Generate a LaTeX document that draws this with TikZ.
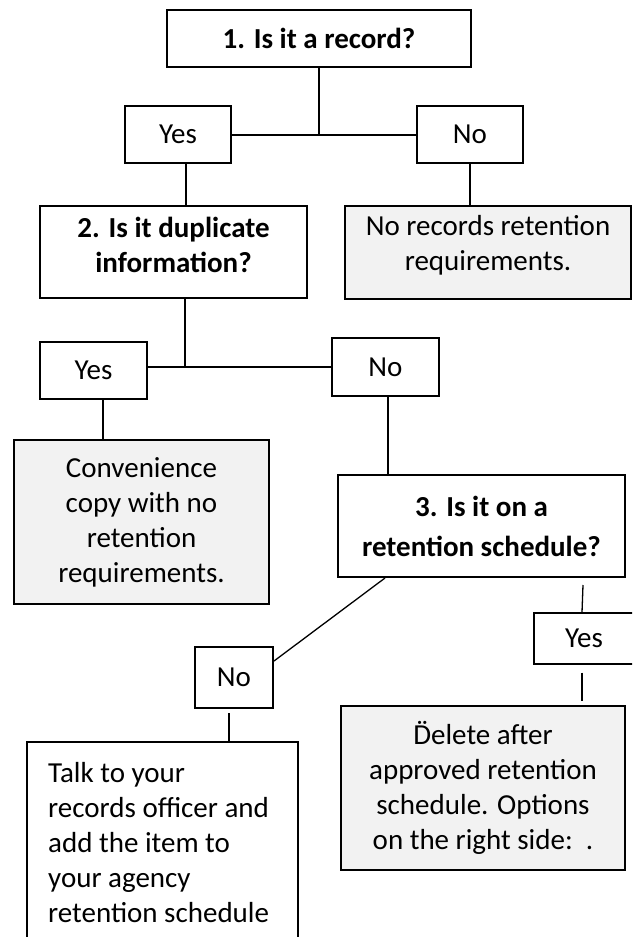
\documentclass[tikz,border=0pt]{standalone}
\usepackage{fontspec}
\setmainfont{Carlito}

\definecolor{boxgrey}{HTML}{F2F2F2}
\newcommand{\boxfont}{\fontsize{29}{35}\selectfont}

\begin{document}
\begin{tikzpicture}[x = 1pt, y = -1pt, font = \boxfont,
	box/.style = {draw, line width = 2pt, inner sep = 0pt, align = center},
	greybox/.style = {box, fill = boxgrey},
	answer/.style = {box, minimum width = 106pt, minimum height = 57pt},
	question/.style = {box, font = \boxfont\bfseries},
	txt/.style = {inner sep = 0pt, align = center},
	link/.style = {line width = 2pt},
	thinlink/.style = {line width = 1.3pt}]

	\useasboundingbox (0, 0) rectangle (632, 937);
	\clip (0, 0) rectangle (632, 937);

	% Is it a record?

	\node [question, minimum width = 304pt, minimum height = 57pt] (q1) at (319, 38.5) {1. Is it a record?};
	\node [answer] (yes1) at (178, 134.5) {Yes};
	\node [answer] (no1) at (470, 134.5) {No};

	\draw [link] (q1.south) -- (q1.south |- no1.west);
	\draw [link] (yes1.east) -- (no1.west);

	% Is it duplicate information?

	\node [question, minimum width = 267pt, minimum height = 92pt] (q2) at (173.5, 252) {};
	\node [txt, font = \boxfont\bfseries] (q2text) at (173.5, 245) {2. Is it duplicate\\information?};
	\node [greybox, minimum width = 286pt, minimum height = 93pt] (none) at (488, 252.5) {};
	\node [txt] (nonetext) at (488, 245.5) {No records retention\\requirements.};

	\draw [link] ([xshift = 8pt] yes1.south) -- ([xshift = 8pt] yes1.south |- q2.north);
	\draw [link] (no1.south) -- (no1.south |- none.north);

	\node [answer, minimum width = 107pt] (yes2) at (93.5, 370.5) {Yes};
	\node [answer, minimum width = 107pt, minimum height = 58pt] (no2) at (385.5, 367) {No};
	\node [greybox, minimum width = 255pt, minimum height = 164pt] (conv) at (141.5, 522) {Convenience\\copy with no\\retention\\requirements.};

	\draw [link] ([xshift = 11.5pt] q2.south) -- ([xshift = 11.5pt] q2.south |- no2.west);
	\draw [link] (yes2.east |- no2.west) -- (no2.west);
	\draw [link] ([xshift = 9.5pt] yes2.south) -- ([xshift = 9.5pt] yes2.south |- conv.north);

	% Is it on a retention schedule?

	\node [question, minimum width = 287pt, minimum height = 102pt] (q3) at (481.5, 526) {3. Is it on a\\[5pt]retention schedule?};

	\draw [link] ([xshift = 2.5pt] no2.south) -- ([xshift = 2.5pt] no2.south |- q3.north);

	\node [answer, line width = 1.3pt, minimum width = 100pt, minimum height = 51pt] (yes3) at (584, 638.5) {Yes};
	\node [greybox, minimum width = 284pt, minimum height = 164pt] (del) at (483, 788) {\accent"A8 Delete after\\approved retention\\schedule. Options\\on the right side:\ \ .};
	\node [answer, minimum width = 78pt, minimum height = 61pt] (no3) at (234, 677.5) {No};
	\node [box, line width = 1.3pt, minimum width = 271pt, minimum height = 240pt] (talk) at (162.5, 862) {};
	\node [txt, anchor = north west, align = left] (talktext) at (48, 762) {Talk to your\\records officer and\\add the item to\\your agency\\retention schedule};

	\draw [thinlink] ([xshift = 48pt] q3.south west) -- ([yshift = -15pt] no3.north east);
	\draw [thinlink] ([xshift = -43pt, yshift = -7pt] q3.south east) -- ([xshift = -2pt] yes3.north);
	\draw [thinlink] ([xshift = -2pt, yshift = -8pt] yes3.south) -- ([xshift = -2pt, yshift = 4pt] yes3.south |- del.north);
	\draw [thinlink] ([xshift = -5pt, yshift = -4pt] no3.south) -- ([xshift = -5pt] no3.south |- talk.north);

\end{tikzpicture}
\end{document}
